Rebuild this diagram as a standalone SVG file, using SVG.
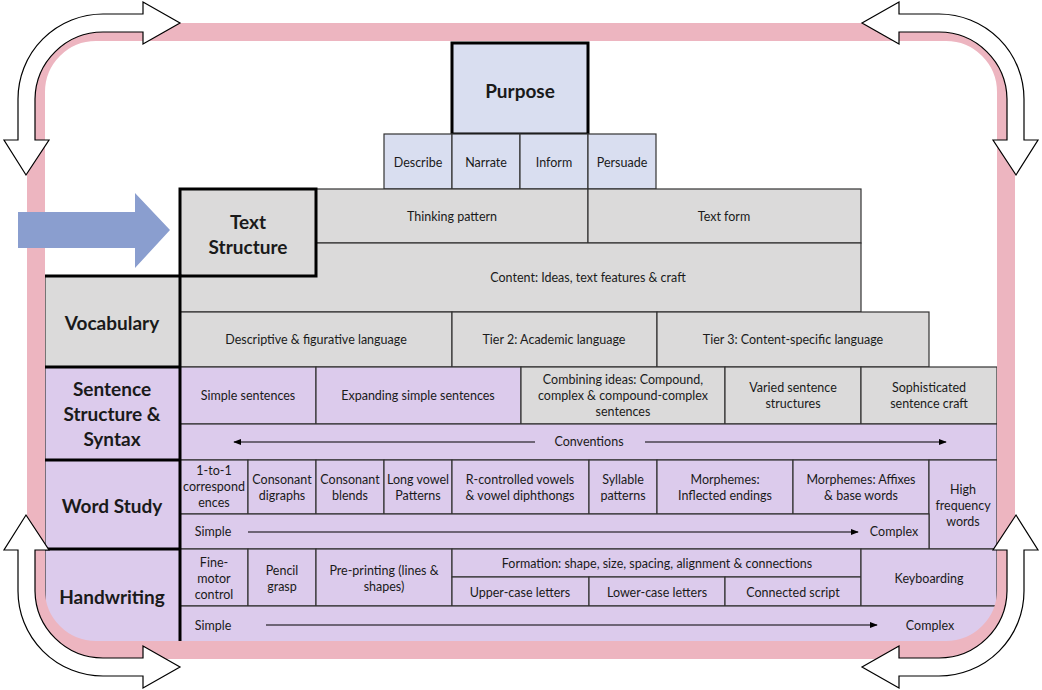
<svg xmlns="http://www.w3.org/2000/svg" width="1042" height="690" viewBox="0 0 1042 690">
<style>
text{font-family:Lato,"Noto Sans",sans-serif;fill:#1a1a1a;text-anchor:middle;dominant-baseline:central}
.t{font-size:12.5px}
.h{font-size:19px;font-weight:bold}
.g{fill:#dbdada;stroke:#333;stroke-width:1.2}
.p{fill:#dccbec;stroke:#333;stroke-width:1.2}
.b{fill:#d9def0;stroke:#333;stroke-width:1.2}
.k{stroke:#000;stroke-width:3;fill:none}
.ln{stroke:#000;stroke-width:1.2;fill:none}
.wa{fill:#fff;stroke:#000;stroke-width:1.2}
</style>
<defs>
<marker id="ah" viewBox="0 0 10 10" refX="9" refY="5" markerWidth="8" markerHeight="8" markerUnits="userSpaceOnUse" orient="auto-start-reverse"><path d="M0,1 L10,5 L0,9 Z" fill="#000"/></marker>
<path id="ca" d="M143,14 L103,14 A85,85 0 0 0 18,99 L18,140 L4,140 L26,175 L49,140 L35,140 L35,99 A68,68 0 0 1 103,32 L143,32 L143,44 L180,23 L143,2 Z"/>
</defs>
<rect width="1042" height="690" fill="#fff"/>
<g id="purpose"><rect class="b" x="452" y="43" width="136" height="91"/><rect class="k" x="452" y="43" width="136" height="91"/><text class="h" x="520" y="90">Purpose</text></g>
<g id="purpose-row">
<rect class="b" x="384" y="134" width="68" height="55"/><text class="t" x="418" y="162">Describe</text>
<rect class="b" x="452" y="134" width="68" height="55"/><text class="t" x="486" y="162">Narrate</text>
<rect class="b" x="520" y="134" width="68" height="55"/><text class="t" x="554" y="162">Inform</text>
<rect class="b" x="588" y="134" width="68" height="55"/><text class="t" x="622" y="162">Persuade</text>
</g>
<g id="text-structure-row">
<rect class="g" x="316" y="189" width="272" height="54"/><text class="t" x="452" y="216">Thinking pattern</text>
<rect class="g" x="588" y="189" width="273" height="54"/><text class="t" x="724" y="216">Text form</text>
<rect class="g" x="180" y="243" width="681" height="69"/><text class="t" x="588" y="277">Content: Ideas, text features &amp; craft</text>
</g>
<g id="text-structure"><rect class="g" x="180" y="189" width="136" height="87"/><rect class="k" x="180" y="189" width="136" height="87"/><text class="h" x="248" y="221">Text</text><text class="h" x="248" y="246">Structure</text></g>
<g id="vocabulary-row">
<rect class="g" x="180" y="312" width="272" height="55"/><text class="t" x="316" y="339">Descriptive &amp; figurative language</text>
<rect class="g" x="452" y="312" width="205" height="55"/><text class="t" x="554" y="339">Tier 2: Academic language</text>
<rect class="g" x="657" y="312" width="272" height="55"/><text class="t" x="793" y="339">Tier 3: Content-specific language</text>
</g>
<g id="sentence-row">
<rect class="p" x="180" y="367" width="136" height="57"/><text class="t" x="248" y="395">Simple sentences</text>
<rect class="p" x="316" y="367" width="205" height="57"/><text class="t" x="418" y="395">Expanding simple sentences</text>
<rect class="g" x="521" y="367" width="204" height="57"/><text class="t" x="623" y="379">Combining ideas: Compound,</text><text class="t" x="623" y="395">complex &amp; compound-complex</text><text class="t" x="623" y="411">sentences</text>
<rect class="g" x="725" y="367" width="136" height="57"/><text class="t" x="793" y="387">Varied sentence</text><text class="t" x="793" y="403">structures</text>
<rect class="g" x="861" y="367" width="136" height="57"/><text class="t" x="929" y="387">Sophisticated</text><text class="t" x="929" y="403">sentence craft</text>
<rect class="p" x="180" y="424" width="817" height="36"/><text class="t" x="589" y="441">Conventions</text>
</g>
<g id="word-study-row">
<rect class="p" x="180" y="460" width="68" height="54"/><text class="t" x="214" y="470">1-to-1</text><text class="t" x="214" y="486">correspond</text><text class="t" x="214" y="502">ences</text>
<rect class="p" x="248" y="460" width="68" height="54"/><text class="t" x="282" y="479">Consonant</text><text class="t" x="282" y="495">digraphs</text>
<rect class="p" x="316" y="460" width="68" height="54"/><text class="t" x="350" y="479">Consonant</text><text class="t" x="350" y="495">blends</text>
<rect class="p" x="384" y="460" width="68" height="54"/><text class="t" x="418" y="479">Long vowel</text><text class="t" x="418" y="495">Patterns</text>
<rect class="p" x="452" y="460" width="137" height="54"/><text class="t" x="520" y="479">R-controlled vowels</text><text class="t" x="520" y="495">&amp; vowel diphthongs</text>
<rect class="p" x="589" y="460" width="68" height="54"/><text class="t" x="623" y="479">Syllable</text><text class="t" x="623" y="495">patterns</text>
<rect class="p" x="657" y="460" width="136" height="54"/><text class="t" x="725" y="479">Morphemes:</text><text class="t" x="725" y="495">Inflected endings</text>
<rect class="p" x="793" y="460" width="136" height="54"/><text class="t" x="861" y="479">Morphemes: Affixes</text><text class="t" x="861" y="495">&amp; base words</text>
<rect class="p" x="929" y="460" width="68" height="89"/><text class="t" x="963" y="489">High</text><text class="t" x="963" y="505">frequency</text><text class="t" x="963" y="521">words</text>
<rect class="p" x="180" y="514" width="749" height="35"/><text class="t" x="213" y="531">Simple</text><text class="t" x="894" y="531">Complex</text>
</g>
<g id="handwriting-row">
<rect class="p" x="180" y="549" width="68" height="57"/><text class="t" x="214" y="562">Fine-</text><text class="t" x="214" y="578">motor</text><text class="t" x="214" y="594">control</text>
<rect class="p" x="248" y="549" width="68" height="57"/><text class="t" x="282" y="570">Pencil</text><text class="t" x="282" y="586">grasp</text>
<rect class="p" x="316" y="549" width="136" height="57"/><text class="t" x="384" y="570">Pre-printing (lines &amp;</text><text class="t" x="384" y="586">shapes)</text>
<rect class="p" x="452" y="549" width="409" height="28"/><text class="t" x="657" y="563">Formation: shape, size, spacing, alignment &amp; connections</text>
<rect class="p" x="452" y="577" width="137" height="29"/><text class="t" x="520" y="592">Upper-case letters</text>
<rect class="p" x="589" y="577" width="136" height="29"/><text class="t" x="657" y="592">Lower-case letters</text>
<rect class="p" x="725" y="577" width="136" height="29"/><text class="t" x="793" y="592">Connected script</text>
<rect class="p" x="861" y="549" width="136" height="57"/><text class="t" x="929" y="578">Keyboarding</text>
<rect class="p" x="180" y="606" width="817" height="38"/><text class="t" x="213" y="625">Simple</text><text class="t" x="930" y="625">Complex</text>
</g>
<g id="labels">
<rect class="g" x="45" y="276" width="135" height="91"/><text class="h" x="112" y="322">Vocabulary</text>
<rect class="p" x="45" y="367" width="135" height="93"/><text class="h" x="112" y="388">Sentence</text><text class="h" x="112" y="413">Structure &amp;</text><text class="h" x="112" y="438">Syntax</text>
<rect class="p" x="45" y="460" width="135" height="89"/><text class="h" x="112" y="505">Word Study</text>
<rect class="p" x="45" y="549" width="135" height="95"/><text class="h" x="112" y="596">Handwriting</text>
<path class="k" d="M45,276 H180 V644 M45,367 H180 M45,460 H180 M45,549 H180"/>
</g>
<g id="connectors">
<path class="ln" d="M535,442 H234" marker-end="url(#ah)"/>
<path class="ln" d="M645,442 H946" marker-end="url(#ah)"/>
<path class="ln" d="M248,532 H858" marker-end="url(#ah)"/>
<path class="ln" d="M266,625 H877" marker-end="url(#ah)"/>
</g>
<rect id="frame" x="36" y="32" width="970" height="618" rx="60" fill="none" stroke="#edb5c0" stroke-width="18"/>
<g id="blue-arrow"><path d="M18,212 H135 V193 L170,230 L135,268 V248 H18 Z" fill="#8a9ecf"/></g>
<g id="cycle-arrows">
<use href="#ca" class="wa"/>
<use href="#ca" class="wa" transform="translate(1042,0) scale(-1,1)"/>
<use href="#ca" class="wa" transform="translate(0,690) scale(1,-1)"/>
<use href="#ca" class="wa" transform="translate(1042,690) scale(-1,-1)"/>
</g>
</svg>
